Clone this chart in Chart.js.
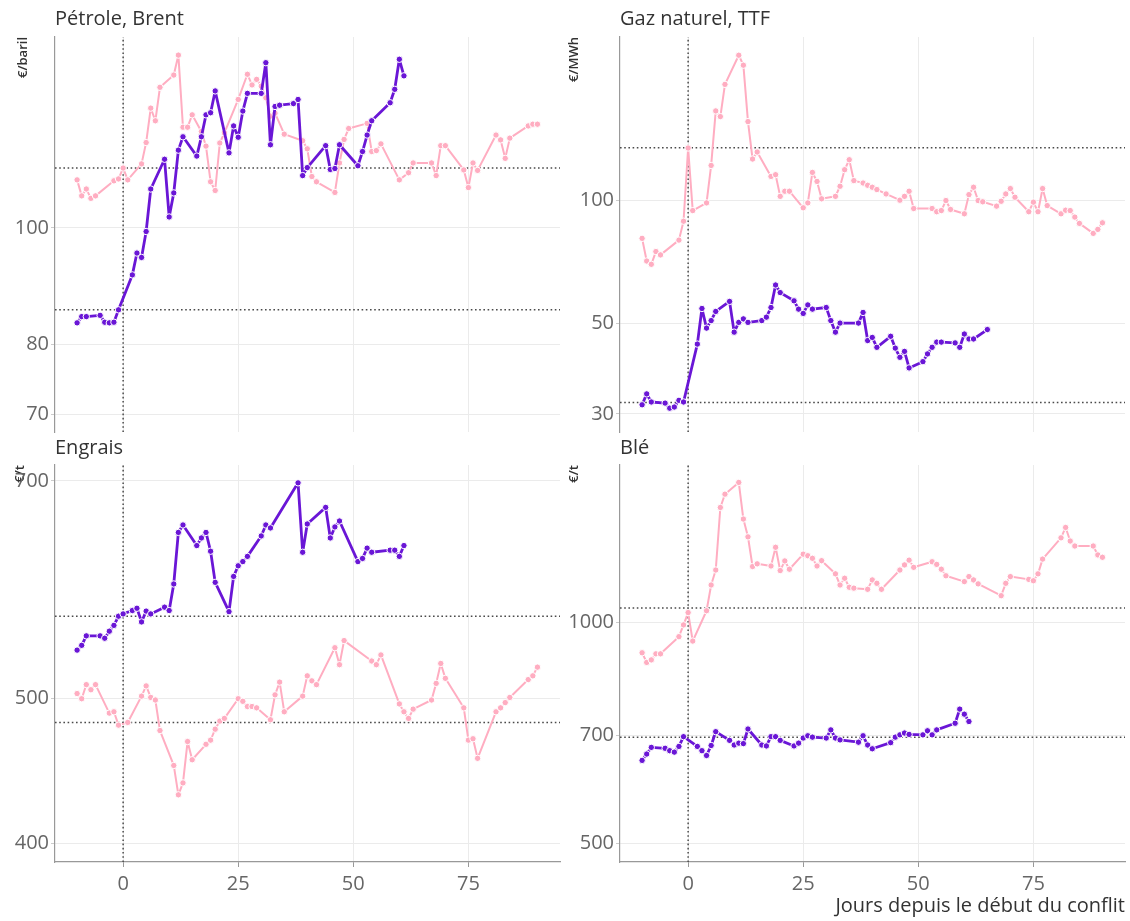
<!DOCTYPE html>
<html lang="fr">
<head>
<meta charset="utf-8">
<script src="https://cdn.jsdelivr.net/npm/chart.js@4.4.1/dist/chart.umd.min.js"></script>
<style>
  body { margin: 0; background: #fff; font-family: "Open Sans", sans-serif; }
  #page { position: relative; width: 1130px; height: 921px; overflow: hidden; }
  .panel { position: absolute; }
  .titre { position: absolute; font-size: 20px; line-height: 20px; color: #333; white-space: nowrap; }
</style>
</head>
<body>
<div id="page">
  <div class="panel" style="left:0;top:0;width:565px;height:440px"><canvas id="brent"></canvas></div>
  <div class="panel" style="left:565px;top:0;width:565px;height:440px"><canvas id="gaz"></canvas></div>
  <div class="panel" style="left:0;top:440px;width:565px;height:481px"><canvas id="engrais"></canvas></div>
  <div class="panel" style="left:565px;top:440px;width:565px;height:481px"><canvas id="ble"></canvas></div>
  <div class="titre" style="left:55px;top:8px">Pétrole, Brent</div>
  <div class="titre" style="left:620px;top:8px">Gaz naturel, TTF</div>
  <div class="titre" style="left:55px;top:437px">Engrais</div>
  <div class="titre" style="left:620px;top:437px">Blé</div>
</div>
<script>
const ROSE = "#ffadc1";
const VIOLET = "#6a16d6";

// axe commun : jours depuis le début du conflit
const xTicks = [0, 25, 50, 75];
const xMin = -14.8, xMax = 94.9;

// Pétrole, Brent (€/baril)
const brentTicks = [70, 80, 100];
const brentRange = [67.7, 144];
const brentRef = [112.1, 85.5];
const brentRoseJours = [-10,-9,-8,-7,-6,-2,-1,0,1,4,5,6,7,8,11,12,13,14,15,17,18,19,20,21,22,25,27,28,29,30,31,32,33,35,39,40,41,42,46,47,48,49,53,54,55,56,60,62,63,67,68,69,70,74,75,76,77,81,82,83,84,88,89,90];
const brentRose = [109.6,106.3,107.7,105.8,106.3,109.4,109.8,112.1,109.6,113.0,117.7,125.7,122.7,130.8,133.9,139.1,121.2,121.2,124.1,120.2,116.9,109.2,107.4,117.6,119.9,127.8,134.1,131.4,132.8,131.1,128.2,123.8,124.5,119.6,118.1,116.3,110.3,109.2,107.0,113.2,118.4,120.9,122.1,115.7,115.9,117.4,109.6,111.1,113.2,113.2,110.5,117.0,117.0,111.7,108.0,113.2,111.6,119.4,118.3,114.2,118.7,121.5,121.9,121.9];
const brentVioletJours = [-10,-9,-8,-5,-4,-3,-2,-1,2,3,4,5,6,9,10,11,12,13,16,17,18,19,20,23,24,25,26,27,30,31,32,33,34,37,38,39,40,44,45,46,47,51,52,53,54,58,59,60,61];
const brentViolet = [83.4,84.4,84.4,84.6,83.5,83.4,83.5,85.5,91.4,95.3,94.5,99.3,107.7,114.0,102.1,106.9,116.0,119.0,114.7,119.0,124.1,124.6,129.9,115.4,121.5,118.9,125.0,129.3,129.3,137.1,117.2,126.1,126.4,126.8,127.8,110.5,112.2,117.0,111.8,112.0,117.2,112.6,115.7,119.4,122.7,127.0,130.3,138.0,133.7];

// Gaz naturel, TTF (€/MWh)
const gazTicks = [30, 50, 100];
const gazRange = [27.1, 251.6];
const gazRef = [134.7, 32.0];
const gazRoseJours = [-10,-9,-8,-7,-6,-2,-1,0,1,4,5,6,7,8,11,12,13,14,15,18,19,20,21,22,25,26,27,28,29,32,33,34,35,36,38,39,40,41,43,46,47,48,49,53,54,55,56,57,60,61,62,63,64,67,68,69,70,71,74,75,76,77,78,81,82,83,84,85,88,89,90];
const gazRose = [80.8,71.1,69.8,75.0,73.6,80.0,89.0,134.5,94.5,98.7,121.9,165.8,160.6,192.6,227.0,214.6,156.1,126.4,131.5,114.6,115.7,102.4,105.4,105.4,96.0,98.7,117.2,111.4,101.0,102.4,108.4,119.0,125.9,111.9,110.4,109.0,107.8,106.4,103.8,100.2,102.4,105.4,95.6,95.6,93.9,94.5,100.0,95.1,92.8,103.4,107.8,100.0,99.3,96.9,99.6,103.8,107.0,101.9,93.9,99.1,93.9,107.0,97.2,92.8,94.7,94.5,91.1,87.9,83.1,85.0,88.2];
const gazVioletJours = [-10,-9,-8,-5,-4,-3,-2,-1,2,3,4,5,6,9,10,11,12,13,16,17,18,19,20,23,24,25,26,27,30,31,32,33,37,38,39,40,41,44,45,46,47,48,51,52,53,54,55,58,59,60,61,62,65];
const gazViolet = [31.6,33.6,32.1,31.9,31.0,31.2,32.4,32.1,44.5,54.4,48.7,50.8,53.5,56.6,47.6,50.3,51.3,50.3,50.8,51.8,54.7,62.1,59.5,56.8,54.2,52.9,55.5,54.2,54.7,50.8,47.6,50.1,50.1,53.2,45.4,46.2,43.7,46.5,43.5,41.3,42.7,38.9,40.3,42.1,43.7,45.0,45.0,44.8,43.7,47.1,45.8,45.8,48.3];

// Engrais (€/t)
const engraisTicks = [400, 500, 700];
const engraisRange = [388.5, 717.5];
const engraisRef = [482, 568];
const engraisRoseJours = [-10,-9,-8,-7,-6,-3,-2,-1,1,4,5,6,7,8,11,12,13,14,15,18,19,20,21,22,25,26,27,28,29,32,33,34,35,39,40,41,42,46,47,48,54,55,56,60,61,62,63,67,68,69,70,74,75,76,77,81,82,83,84,88,89,90];
const engraisRose = [504,500,511,507,511,489,490,480,482,502,510,501,499,476,451,431,439,468,455,466,469,477,483,485,500,498,494,494,493,484,503,513,490,502,518,514,511,541,527,547,530,527,535,496,490,485,492,499,512,528,516,493,469,470,456,490,493,497,501,515,518,525];
const engraisVioletJours = [-10,-9,-8,-5,-4,-3,-2,-1,0,2,3,4,5,6,9,10,11,12,13,16,17,18,19,20,23,24,25,26,27,30,31,32,38,39,40,44,45,46,47,51,52,53,54,58,59,60,61];
const engraisViolet = [539,543,551,551,549,555,560,568,570,573,575,563,572.5,570,576,573,597,646.5,654,633.5,641,646.5,628,598.5,572,604,614,618,623,643,654,651,698,627,655,672,641,652,658,618,621,631,627,629,629,623,633.5];

// Blé (€/t)
const bleTicks = [500, 700, 1000];
const bleRange = [471.2, 1636];
const bleRef = [1045, 697];
const bleRoseJours = [-10,-9,-8,-7,-6,-2,-1,0,1,4,5,6,7,8,11,12,13,14,15,18,19,20,21,22,25,26,27,28,29,32,33,34,35,36,39,40,41,42,46,47,48,49,53,54,55,56,60,61,62,63,68,69,70,74,75,76,77,81,82,83,84,88,89,90];
const bleRose = [908,881,888,905,905,955,991,1030,942,1036,1123,1177,1432,1493,1549,1381,1306,1190,1200,1192,1264,1175,1211,1180,1237,1231,1221,1192,1212,1163,1123,1147,1115,1112,1108,1141,1129,1108,1177,1196,1214,1187,1208,1198,1180,1156,1135,1153,1141,1127,1086,1129,1153,1143,1138,1163,1218,1302,1345,1289,1269,1269,1234,1225];
const bleVioletJours = [-10,-9,-8,-5,-4,-3,-2,-1,2,3,4,5,6,9,10,11,12,13,16,17,18,19,20,23,24,25,26,27,30,31,32,33,37,38,39,40,44,45,46,47,48,51,52,53,54,58,59,60,61];
const bleViolet = [648,661,675,673,668,665,677,698,677,668,658,679,709,690,680,684,683,715,680,678,698,698,690,678,684,695,700,697,695,713,695,691,686,700,680,672,685,697,702,706,703,702,711,702,713,728,761,749,732];

function points(jours, valeurs) {
  return jours.map((j, i) => ({ x: j, y: valeurs[i] }));
}

function serie(label, jours, valeurs, couleur, epaisseur) {
  return {
    label: label,
    data: points(jours, valeurs),
    borderColor: couleur,
    backgroundColor: couleur,
    borderWidth: epaisseur,
    borderJoinStyle: "round",
    borderCapStyle: "round",
    pointRadius: 3.2,
    pointBorderWidth: 1,
    pointBorderColor: "#fff",
    pointBackgroundColor: couleur,
    tension: 0,
  };
}

function pointille(data) {
  return {
    label: "ref",
    data: data,
    borderColor: "#4a4a4a",
    borderWidth: 1.5,
    borderDash: [1.6, 2.6],
    pointRadius: 0,
    tension: 0,
  };
}

function makeChart(id, o) {
  const ctx = document.getElementById(id).getContext("2d");
  return new Chart(ctx, {
    type: "line",
    data: {
      datasets: [
        serie("violet", o.violetJours, o.violet, VIOLET, 2.8),
        serie("rose", o.roseJours, o.rose, ROSE, 2),
        pointille([{ x: xMin, y: o.ref[0] }, { x: xMax, y: o.ref[0] }]),
        pointille([{ x: xMin, y: o.ref[1] }, { x: xMax, y: o.ref[1] }]),
        pointille([{ x: 0, y: o.range[0] }, { x: 0, y: o.range[1] }]),
      ],
    },
    options: {
      responsive: true,
      maintainAspectRatio: false,
      animation: false,
      layout: { padding: { top: o.padTop, right: 2, bottom: 0, left: 0 } },
      plugins: { legend: { display: false }, tooltip: { enabled: false } },
      scales: {
        x: {
          type: "linear",
          min: xMin,
          max: xMax,
          afterBuildTicks: (scale) => {
            scale.ticks = xTicks.map((v) => ({ value: v }));
          },
          afterFit: (scale) => {
            scale.height = o.xHeight;
            scale.paddingLeft = 0;
            scale.paddingRight = 0;
          },
          grid: { color: "#ebebeb", lineWidth: 1, drawTicks: o.xLabels, tickLength: 5, tickColor: "#999" },
          border: { display: o.xLabels, color: "#999", width: 1.2 },
          ticks: {
            display: o.xLabels,
            padding: 5,
            color: "#666",
            font: { family: "Open Sans", size: 20 },
            maxRotation: 0,
          },
          title: {
            display: !!o.xTitle,
            text: o.xTitle || "",
            align: "end",
            color: "#333",
            font: { family: "Open Sans", size: 20 },
            padding: { top: 0, bottom: 3 },
          },
        },
        y: {
          type: "logarithmic",
          min: o.range[0],
          max: o.range[1],
          bounds: "data",
          afterBuildTicks: (scale) => {
            scale.ticks = o.ticks.map((v) => ({ value: v }));
          },
          afterFit: (scale) => {
            scale.width = 55;
            scale.paddingTop = 0;
            scale.paddingBottom = 0;
          },
          grid: { color: "#ebebeb", lineWidth: 1, drawTicks: true, tickLength: 4, tickColor: "#ccc" },
          border: { display: true, color: "#999", width: 1.2 },
          ticks: {
            padding: 2,
            color: "#666",
            font: { family: "Open Sans", size: 20 },
            callback: (v) => String(v),
          },
          title: {
            display: true,
            text: o.unite,
            align: "end",
            color: "#333",
            font: { family: "Open Sans", size: 13, weight: "600" },
            padding: { top: o.unitePad, bottom: 0 },
          },
        },
      },
    },
  });
}

makeChart("brent", {
  roseJours: brentRoseJours, rose: brentRose,
  violetJours: brentVioletJours, violet: brentViolet,
  ref: brentRef, range: brentRange, ticks: brentTicks,
  unite: "€/baril", unitePad: 15, padTop: 37, xHeight: 8, xLabels: false,
});
makeChart("gaz", {
  roseJours: gazRoseJours, rose: gazRose,
  violetJours: gazVioletJours, violet: gazViolet,
  ref: gazRef, range: gazRange, ticks: gazTicks,
  unite: "€/MWh", unitePad: 1, padTop: 37, xHeight: 8, xLabels: false,
});
makeChart("engrais", {
  roseJours: engraisRoseJours, rose: engraisRose,
  violetJours: engraisVioletJours, violet: engraisViolet,
  ref: engraisRef, range: engraisRange, ticks: engraisTicks,
  unite: "€/t", unitePad: 12, padTop: 25, xHeight: 59, xLabels: true,
});
makeChart("ble", {
  roseJours: bleRoseJours, rose: bleRose,
  violetJours: bleVioletJours, violet: bleViolet,
  ref: bleRef, range: bleRange, ticks: bleTicks,
  unite: "€/t", unitePad: 1, padTop: 25, xHeight: 59, xLabels: true,
  xTitle: "Jours depuis le début du conflit",
});
</script>
</body>
</html>
